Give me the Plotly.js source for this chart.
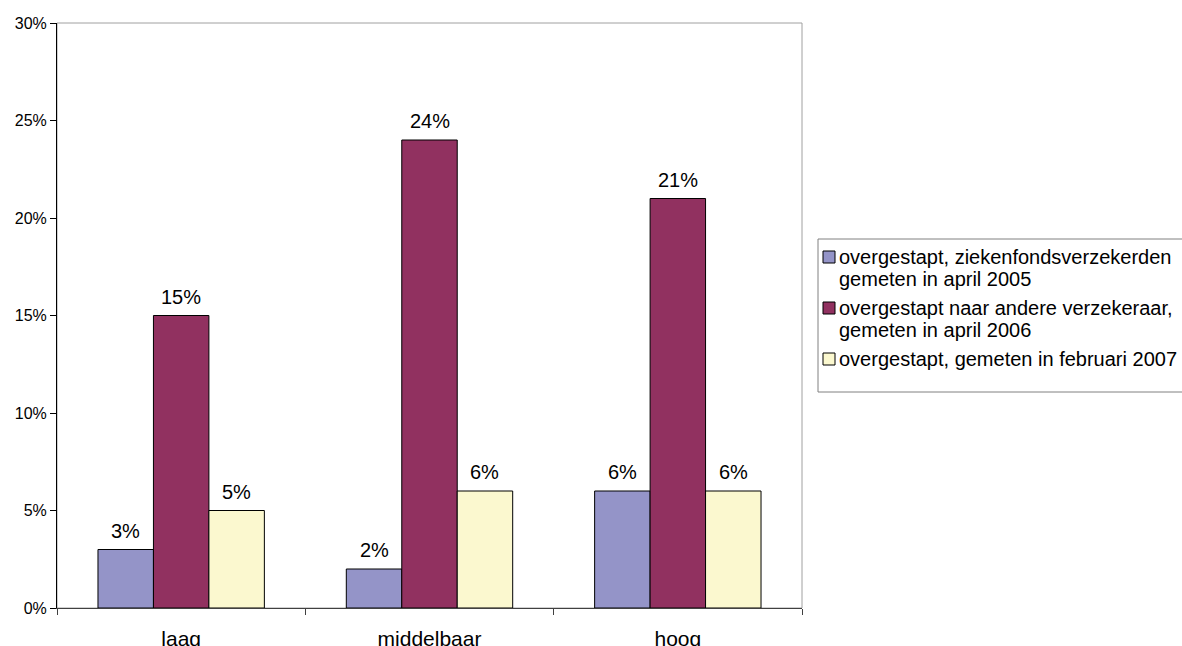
<!DOCTYPE html>
<html><head><meta charset="utf-8">
<script src="https://cdn.plot.ly/plotly-3.0.1.min.js"></script>
<style>html,body{margin:0;padding:0;background:#fff}#chart{width:1182px;height:646px}</style>
</head><body><div id="chart"></div>
<script>
const categories = ['laag', 'middelbaar', 'hoog'];
const seriesNames = [
  'overgestapt, ziekenfondsverzekerden<br>gemeten in april 2005',
  'overgestapt naar andere verzekeraar,<br>gemeten in april 2006',
  'overgestapt, gemeten in februari 2007'
];
const values2005 = [3, 2, 6];
const values2006 = [15, 24, 21];
const values2007 = [5, 6, 6];
const yTicks = [0, 5, 10, 15, 20, 25, 30];
const colors = ['#9494c8', '#913160', '#fbf8cf'];

const allValues = [values2005, values2006, values2007];
const font = 'Liberation Sans, Arial, sans-serif';

const traces = allValues.map((vals, i) => ({
  type: 'bar', x: categories, y: vals, name: seriesNames[i],
  marker: {color: colors[i], line: {color: '#000', width: 1}},
  hoverinfo: 'none', showlegend: false
}));

// plot-area geometry (pixels) for converting layout positions
const L = 57, R = 802, T = 23, B = 608;
const px = x => (x - L) / (R - L);
const py = y => (B - y) / (B - T);

const plotW = R - L; const bargap = 0.33;
const barPx = (plotW / categories.length) * (1 - bargap) / 3;
const annotations = [];
allValues.forEach((vals, i) => {
  vals.forEach((v, j) => {
    annotations.push({x: categories[j], y: v, xref: 'x', yref: 'y', text: v + '%',
      showarrow: false, xshift: (i - 1) * barPx, yshift: 19,
      font: {family: font, size: 20, color: '#000'}});
  });
});

// custom legend
const shapes = [{type: 'rect', xref: 'paper', yref: 'paper', x0: 0, x1: 1, y0: 0, y1: 1,
  line: {color: '#a0a0a0', width: 1}, layer: 'below'},
  {type: 'rect', xref: 'paper', yref: 'paper', x0: px(818), x1: px(1195), y0: py(392), y1: py(239),
  line: {color: '#808080', width: 1}, fillcolor: 'rgba(0,0,0,0)'}];
const itemTop = [257, 308, 359];
seriesNames.forEach((name, i) => {
  const yc = itemTop[i];
  shapes.push({type: 'rect', xref: 'paper', yref: 'paper', x0: px(823), x1: px(835),
    y0: py(yc + 6), y1: py(yc - 6), fillcolor: colors[i], line: {color: '#000', width: 1}});
  name.split('<br>').forEach((line, k) => {
    annotations.push({xref: 'paper', yref: 'paper', x: px(837), y: py(yc + 22 * k),
      xanchor: 'left', yanchor: 'middle', showarrow: false, text: line,
      font: {family: font, size: 20, color: '#000'}});
  });
});

const layout = {
  width: 1182, height: 646,
  margin: {l: L, r: 1182 - R, t: T, b: 646 - B},
  paper_bgcolor: '#fff', plot_bgcolor: '#fff',
  barmode: 'group', bargap: bargap, bargroupgap: 0,
  showlegend: false,
  xaxis: {type: 'category', tickson: 'boundaries', ticks: 'outside', ticklen: 6,
    tickcolor: '#404040', showline: true, linecolor: '#404040', linewidth: 1,
    showgrid: false, zeroline: false, fixedrange: true, ticklabelstandoff: 12,
    tickfont: {family: font, size: 21, color: '#000'}},
  yaxis: {range: [0, 30], tickvals: yTicks, ticktext: yTicks.map(t => t + '%'),
    ticks: 'outside', ticklen: 6, tickcolor: '#000', showline: true, linecolor: '#000',
    linewidth: 1, showgrid: false, zeroline: false, fixedrange: true,
    tickfont: {family: font, size: 16, color: '#000'}},
  shapes: shapes,
  annotations: annotations
};

Plotly.newPlot('chart', traces, layout, {staticPlot: true});
</script></body></html>
